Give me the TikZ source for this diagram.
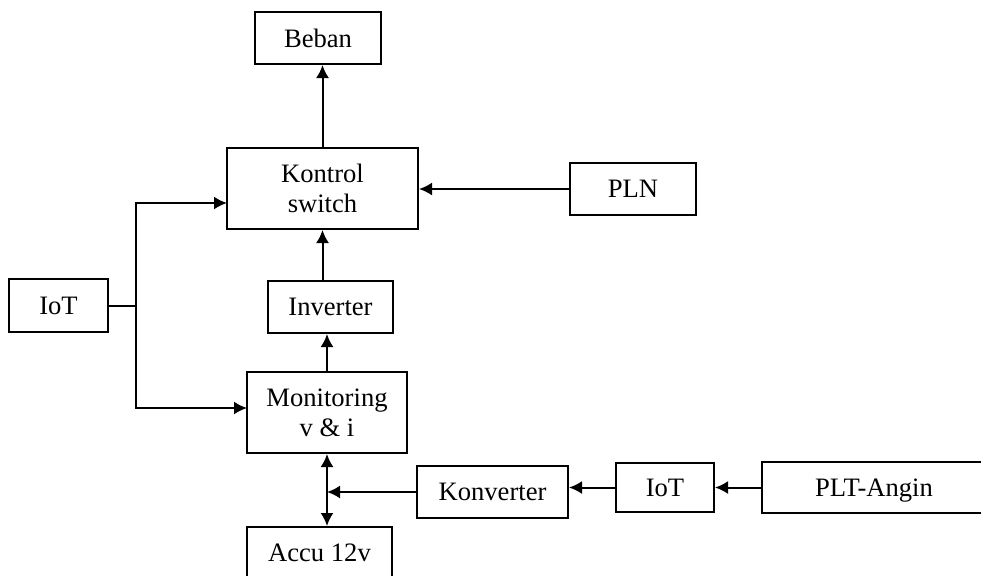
\documentclass[tikz,border=0pt]{standalone}
\usepackage{fontspec}
\setmainfont{Liberation Serif}
\usetikzlibrary{arrows.meta}

\begin{document}
\begin{tikzpicture}[x={(.5pt,0)}, y={(0,-.5pt)}]
            \tikzstyle{block} = [draw, line width = 1pt, inner sep = 0pt, align = center, font = \fontsize{13.3}{15}\selectfont];
            \tikzstyle{arr} = [line width = 1pt, -{Latex[length=6.5pt, width=6.5pt]}];
            \useasboundingbox (0,0) rectangle (981,575);
            \clip (0,0) rectangle (981,575);
            \node[block, minimum width = 63pt, minimum height = 26pt] (beban) at (318,38) {Beban};
            \node[block, minimum width = 95.5pt, minimum height = 40.5pt] (kontrol) at (322.5,188.5) {Kontrol\\switch};
            \node[block, minimum width = 63pt, minimum height = 26pt] (pln) at (633,189) {PLN};
            \node[block, minimum width = 49.5pt, minimum height = 26.5pt] (iotkiri) at (58.5,305.5) {IoT};
            \node[block, minimum width = 62.5pt, minimum height = 26pt] (inverter) at (330.5,307) {Inverter};
            \node[block, minimum width = 80pt, minimum height = 40.5pt] (monitor) at (327,412.5) {Monitoring\\v \& i};
            \node[block, minimum width = 75.5pt, minimum height = 26pt] (konverter) at (492.5,492) {Konverter};
            \node[block, minimum width = 49pt, minimum height = 24.5pt] (iotkanan) at (665,487.5) {IoT};
            \node[block, minimum width = 112pt, minimum height = 25.5pt, text depth = 0pt] (angin) at (874,487.5) {PLT-Angin};
            \node[block, minimum width = 72.5pt, minimum height = 26pt] (accu) at (319.5,553) {Accu 12v};
            \coordinate (cabang) at (136,305.5);
            \coordinate (kinput) at (227,203);
            \coordinate (minput) at (247,408);
            \draw[arr] (kontrol.north) -- (kontrol.north |- beban.south);
            \draw[arr] (pln.west) -- (pln.west -| kontrol.east);
            \draw[arr] (kontrol.south |- inverter.north) -- (kontrol.south);
            \draw[arr] (monitor.north) -- (monitor.north |- inverter.south);
            \draw[line width = 1pt] (iotkiri.east) -- (cabang);
            \draw[arr] (cabang) |- (kinput);
            \draw[arr] (cabang) |- (minput);
            \draw[arr, {Latex[length=6.5pt, width=6.5pt]}-{Latex[length=6.5pt, width=6.5pt]}] (monitor.south) -- (monitor.south |- accu.north);
            \draw[arr] (konverter.west) -- (konverter.west -| monitor.south);
            \draw[arr] (iotkanan.west) -- (iotkanan.west -| konverter.east);
            \draw[arr] (angin.west) -- (angin.west -| iotkanan.east);
        \end{tikzpicture}
\end{document}
